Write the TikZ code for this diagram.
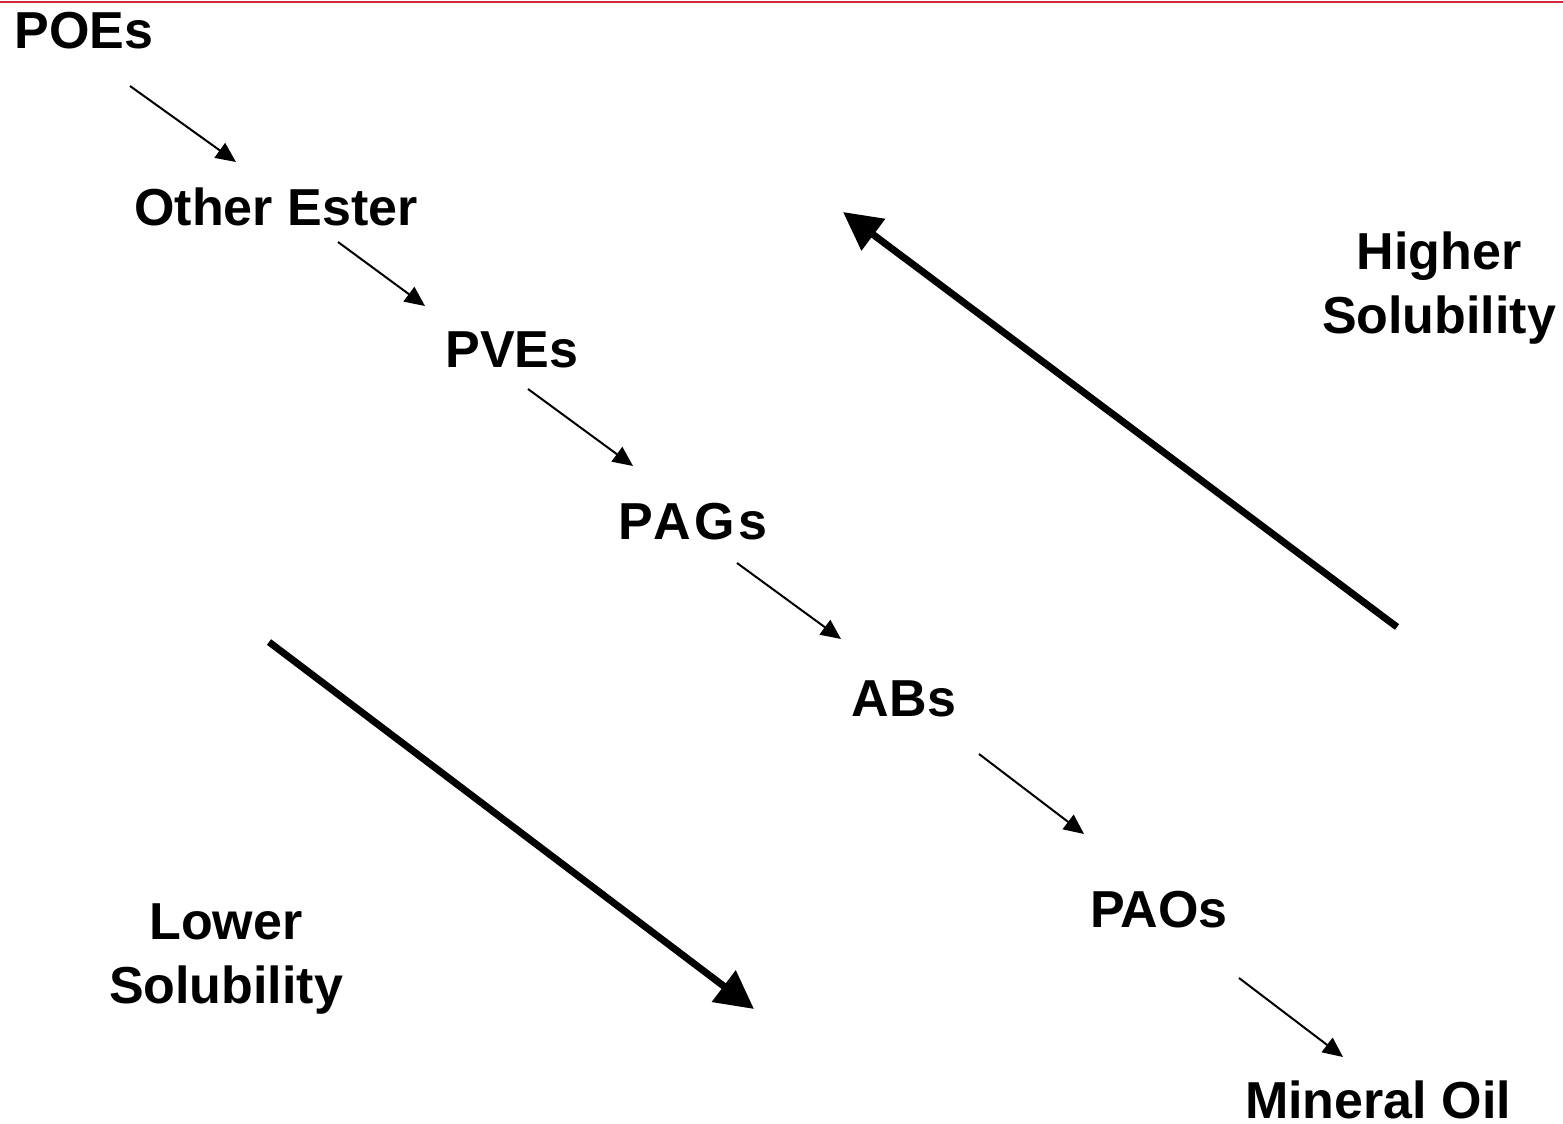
\documentclass[tikz,border=0pt]{standalone}
\usepackage{fontspec}
\setmainfont{Liberation Sans}
\usetikzlibrary{arrows.meta}
\definecolor{topred}{RGB}{210,40,60}
\begin{document}
\begin{tikzpicture}[x=1pt,y=-1pt,
  lbl/.style={font=\bfseries\fontsize{52}{64}\selectfont, inner sep=0pt, anchor=center},
  small/.style={line width=2pt, -{Triangle[length=20pt,width=18pt]}},
  big/.style={line width=7pt, -{Triangle[length=38pt,width=38pt]}}]
\useasboundingbox (0,0) rectangle (1563,1124);
\fill[white] (0,0) rectangle (1563,1124);
\draw[topred, line width=2pt] (0,2) -- (1563,2);
% labels
\node[lbl] (poe) at (84,31) {POEs};
\node[lbl] (oe) at (276,207) {Other Ester};
\node[lbl] (pve) at (512,350) {PVEs};
\node[lbl] (pag) at (693,522) {\addfontfeature{LetterSpace=7}PAGs};
\node[lbl] (ab) at (904,699) {ABs};
\node[lbl] (pao) at (1159,910) {PAOs};
\node[lbl] (mo) at (1378,1100) {Mineral Oil};
\node[lbl, align=center] (hs) at (1439,288) {Higher\\Solubility};
\node[lbl, align=center] (ls) at (226,959) {Lower\\Solubility};
% small arrow endpoints
\coordinate (a1s) at (130,86);   \coordinate (a1e) at (236,162);
\coordinate (a2s) at (338,242);  \coordinate (a2e) at (425,306);
\coordinate (a3s) at (528,389);  \coordinate (a3e) at (633,466);
\coordinate (a4s) at (737,563);  \coordinate (a4e) at (841,639);
\coordinate (a5s) at (979,754);  \coordinate (a5e) at (1084,834);
\coordinate (a6s) at (1239,978); \coordinate (a6e) at (1343,1057);
\draw[small] (a1s) -- (a1e);
\draw[small] (a2s) -- (a2e);
\draw[small] (a3s) -- (a3e);
\draw[small] (a4s) -- (a4e);
\draw[small] (a5s) -- (a5e);
\draw[small] (a6s) -- (a6e);
% big arrows
\coordinate (ups) at (1397,627); \coordinate (upe) at (843,212);
\coordinate (dns) at (269,642);  \coordinate (dne) at (754,1009);
\draw[big] (ups) -- (upe);
\draw[big] (dns) -- (dne);
\end{tikzpicture}
\end{document}
